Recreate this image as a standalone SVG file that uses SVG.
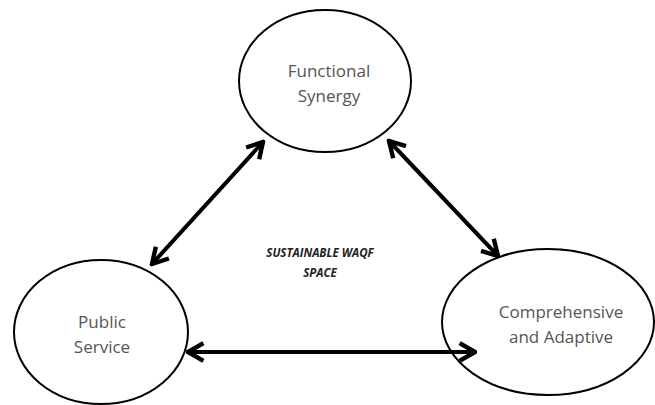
<svg xmlns="http://www.w3.org/2000/svg" width="655" height="405" viewBox="0 0 655 405">
<style>
.node ellipse{fill:#fff;stroke:#000;stroke-width:2}
.lbl{font-family:"Open Sans","Liberation Sans",sans-serif;font-size:17px;fill:#555;text-anchor:middle}
.ctr{font-family:"Open Sans","Liberation Sans",sans-serif;font-size:11.5px;font-weight:bold;font-style:italic;fill:#222;text-anchor:middle}
.conn line{stroke:#000;stroke-width:4;fill:none}
</style>
<defs>
<marker id="ah" viewBox="0 0 10 10" refX="9" refY="5" markerWidth="5.5" markerHeight="5.5" orient="auto-start-reverse" markerUnits="strokeWidth">
<path d="M2,1 L9,5 L2,9" fill="none" stroke="#000" stroke-width="2" stroke-linejoin="miter"/>
</marker>
</defs>
<rect width="655" height="405" fill="#fff"/>
<g id="n-functional" class="node">
<ellipse cx="325" cy="81" rx="86" ry="71"/>
<text class="lbl" x="329" y="77">Functional</text>
<text class="lbl" x="329" y="102">Synergy</text>
</g>
<g id="n-public" class="node">
<ellipse cx="101" cy="332" rx="87" ry="72"/>
<text class="lbl" x="102" y="328">Public</text>
<text class="lbl" x="102" y="353">Service</text>
</g>
<g id="n-comprehensive" class="node">
<ellipse cx="548" cy="322" rx="106" ry="73"/>
<text class="lbl" x="561" y="318">Comprehensive</text>
<text class="lbl" x="561" y="343">and Adaptive</text>
</g>
<g id="center-label">
<text class="ctr" x="320" y="257">SUSTAINABLE WAQF</text>
<text class="ctr" x="320" y="277">SPACE</text>
</g>
<g id="connectors" class="conn">
<line x1="263" y1="142" x2="152" y2="264" marker-start="url(#ah)" marker-end="url(#ah)"/>
<line x1="389" y1="141" x2="498" y2="256" marker-start="url(#ah)" marker-end="url(#ah)"/>
<line x1="188" y1="352" x2="475" y2="352" marker-start="url(#ah)" marker-end="url(#ah)"/>
</g>
</svg>
